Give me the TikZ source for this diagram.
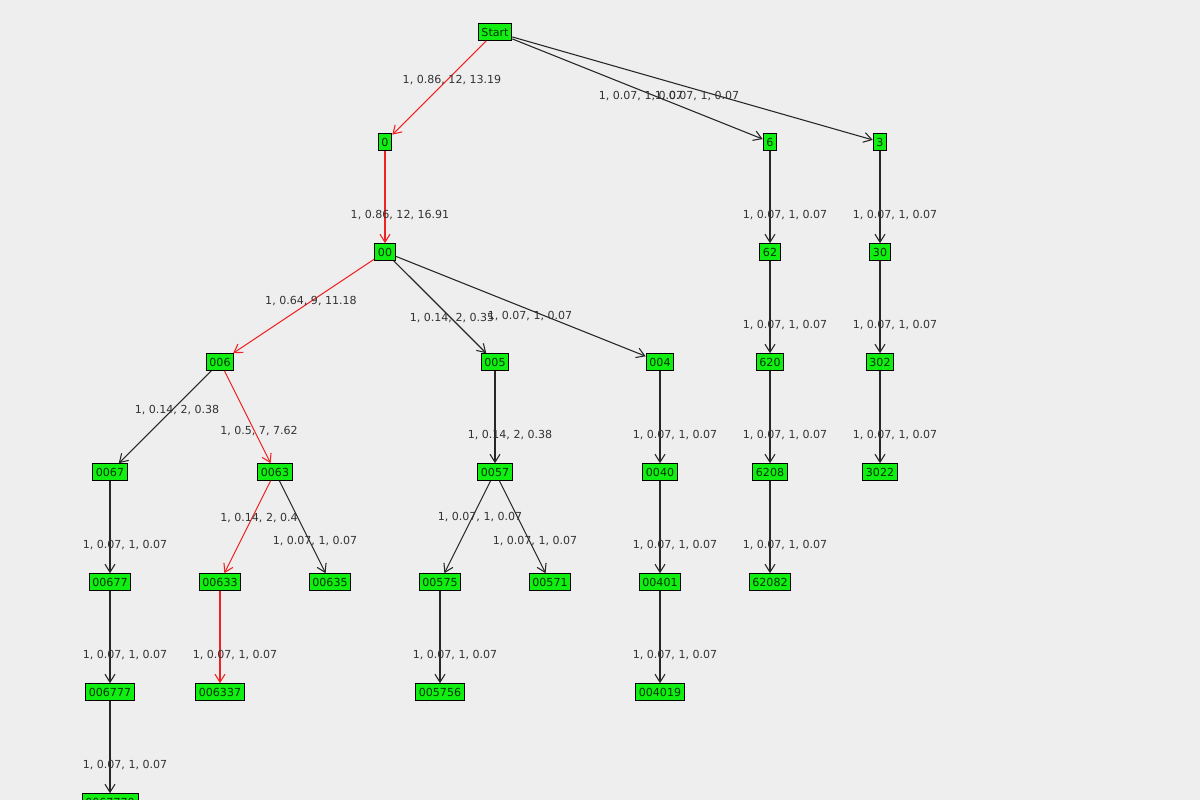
\documentclass[tikz,border=0pt]{standalone}
\usepackage{fontspec}
\setmainfont{DejaVu Sans}
\usetikzlibrary{arrows.meta}
\definecolor{bg}{HTML}{EEEEEE}
\definecolor{nodegreen}{HTML}{11EE11}
\definecolor{lbl}{HTML}{333333}
\definecolor{redpath}{HTML}{EE2222}
\tikzset{
  st/.style={draw=black,fill=nodegreen,text=black!80!green,font=\fontsize{8.3}{9}\selectfont,inner xsep=2.5pt,inner ysep=1pt,minimum height=12.5pt,line width=0.7pt},
  e/.style={draw=black!85,-{Straight Barb[length=6pt,width=7.5pt]},line width=0.8pt},
  r/.style={draw=redpath,-{Straight Barb[length=6pt,width=7.5pt]},line width=0.8pt},
  lb/.style={text=lbl,font=\fontsize{8.3}{9}\selectfont,inner sep=0pt}
}
\begin{document}
\begin{tikzpicture}[x=0.75pt,y=-0.75pt]
\fill[bg] (0,0) rectangle (1200,800);
\useasboundingbox (0,0) rectangle (1200,800);
\begin{scope}
\clip (0,0) rectangle (1200,800);
\node[st] (Start) at (495,32) {Start};
\node[st] (n0) at (385,142) {0};
\node[st] (n6) at (770,142) {6};
\node[st] (n3) at (880,142) {3};
\node[st] (n00) at (385,252) {00};
\node[st] (n62) at (770,252) {62};
\node[st] (n30) at (880,252) {30};
\node[st] (n006) at (220,362) {006};
\node[st] (n005) at (495,362) {005};
\node[st] (n004) at (660,362) {004};
\node[st] (n620) at (770,362) {620};
\node[st] (n302) at (880,362) {302};
\node[st] (n0067) at (110,472) {0067};
\node[st] (n0063) at (275,472) {0063};
\node[st] (n0057) at (495,472) {0057};
\node[st] (n0040) at (660,472) {0040};
\node[st] (n6208) at (770,472) {6208};
\node[st] (n3022) at (880,472) {3022};
\node[st] (n00677) at (110,582) {00677};
\node[st] (n00633) at (220,582) {00633};
\node[st] (n00635) at (330,582) {00635};
\node[st] (n00575) at (440,582) {00575};
\node[st] (n00571) at (550,582) {00571};
\node[st] (n00401) at (660,582) {00401};
\node[st] (n62082) at (770,582) {62082};
\node[st] (n006777) at (110,692) {006777};
\node[st] (n006337) at (220,692) {006337};
\node[st] (n005756) at (440,692) {005756};
\node[st] (n004019) at (660,692) {004019};
\node[st] (n0067770) at (110,802) {0067770};

\draw[r] (Start) -- (n0);
\draw[e] (Start) -- (n6);
\draw[e] (Start) -- (n3);
\draw[r] (n0) -- (n00);
\draw[e] (n6) -- (n62);
\draw[e] (n3) -- (n30);
\draw[r] (n00) -- (n006);
\draw[e] (n00) -- (n005);
\draw[e] (n00) -- (n004);
\draw[e] (n62) -- (n620);
\draw[e] (n30) -- (n302);
\draw[e] (n006) -- (n0067);
\draw[r] (n006) -- (n0063);
\draw[e] (n005) -- (n0057);
\draw[e] (n004) -- (n0040);
\draw[e] (n620) -- (n6208);
\draw[e] (n302) -- (n3022);
\draw[e] (n0067) -- (n00677);
\draw[r] (n0063) -- (n00633);
\draw[e] (n0063) -- (n00635);
\draw[e] (n0057) -- (n00575);
\draw[e] (n0057) -- (n00571);
\draw[e] (n0040) -- (n00401);
\draw[e] (n6208) -- (n62082);
\draw[e] (n00677) -- (n006777);
\draw[r] (n00633) -- (n006337);
\draw[e] (n00575) -- (n005756);
\draw[e] (n00401) -- (n004019);
\draw[e] (n006777) -- (n0067770);

\node[lb] (l1) at (452,80) {1, 0.86, 12, 13.19};
\node[lb] (l2) at (641,96) {1, 0.07, 1, 0.07};
\node[lb] (l3) at (697,96) {1, 0.07, 1, 0.07};
\node[lb] (l4) at (400,215) {1, 0.86, 12, 16.91};
\node[lb] (l5) at (785,215) {1, 0.07, 1, 0.07};
\node[lb] (l6) at (895,215) {1, 0.07, 1, 0.07};
\node[lb] (l7) at (311,301) {1, 0.64, 9, 11.18};
\node[lb] (l8) at (452,318) {1, 0.14, 2, 0.35};
\node[lb] (l9) at (530,316) {1, 0.07, 1, 0.07};
\node[lb] (l10) at (785,325) {1, 0.07, 1, 0.07};
\node[lb] (l11) at (895,325) {1, 0.07, 1, 0.07};
\node[lb] (l12) at (177,410) {1, 0.14, 2, 0.38};
\node[lb] (l13) at (259,431) {1, 0.5, 7, 7.62};
\node[lb] (l14) at (510,435) {1, 0.14, 2, 0.38};
\node[lb] (l15) at (675,435) {1, 0.07, 1, 0.07};
\node[lb] (l16) at (785,435) {1, 0.07, 1, 0.07};
\node[lb] (l17) at (895,435) {1, 0.07, 1, 0.07};
\node[lb] (l18) at (125,545) {1, 0.07, 1, 0.07};
\node[lb] (l19) at (259,518) {1, 0.14, 2, 0.4};
\node[lb] (l20) at (315,541) {1, 0.07, 1, 0.07};
\node[lb] (l21) at (480,517) {1, 0.07, 1, 0.07};
\node[lb] (l22) at (535,541) {1, 0.07, 1, 0.07};
\node[lb] (l23) at (675,545) {1, 0.07, 1, 0.07};
\node[lb] (l24) at (785,545) {1, 0.07, 1, 0.07};
\node[lb] (l25) at (125,655) {1, 0.07, 1, 0.07};
\node[lb] (l26) at (235,655) {1, 0.07, 1, 0.07};
\node[lb] (l27) at (455,655) {1, 0.07, 1, 0.07};
\node[lb] (l28) at (675,655) {1, 0.07, 1, 0.07};
\node[lb] (l29) at (125,765) {1, 0.07, 1, 0.07};
\end{scope}
\end{tikzpicture}
\end{document}
